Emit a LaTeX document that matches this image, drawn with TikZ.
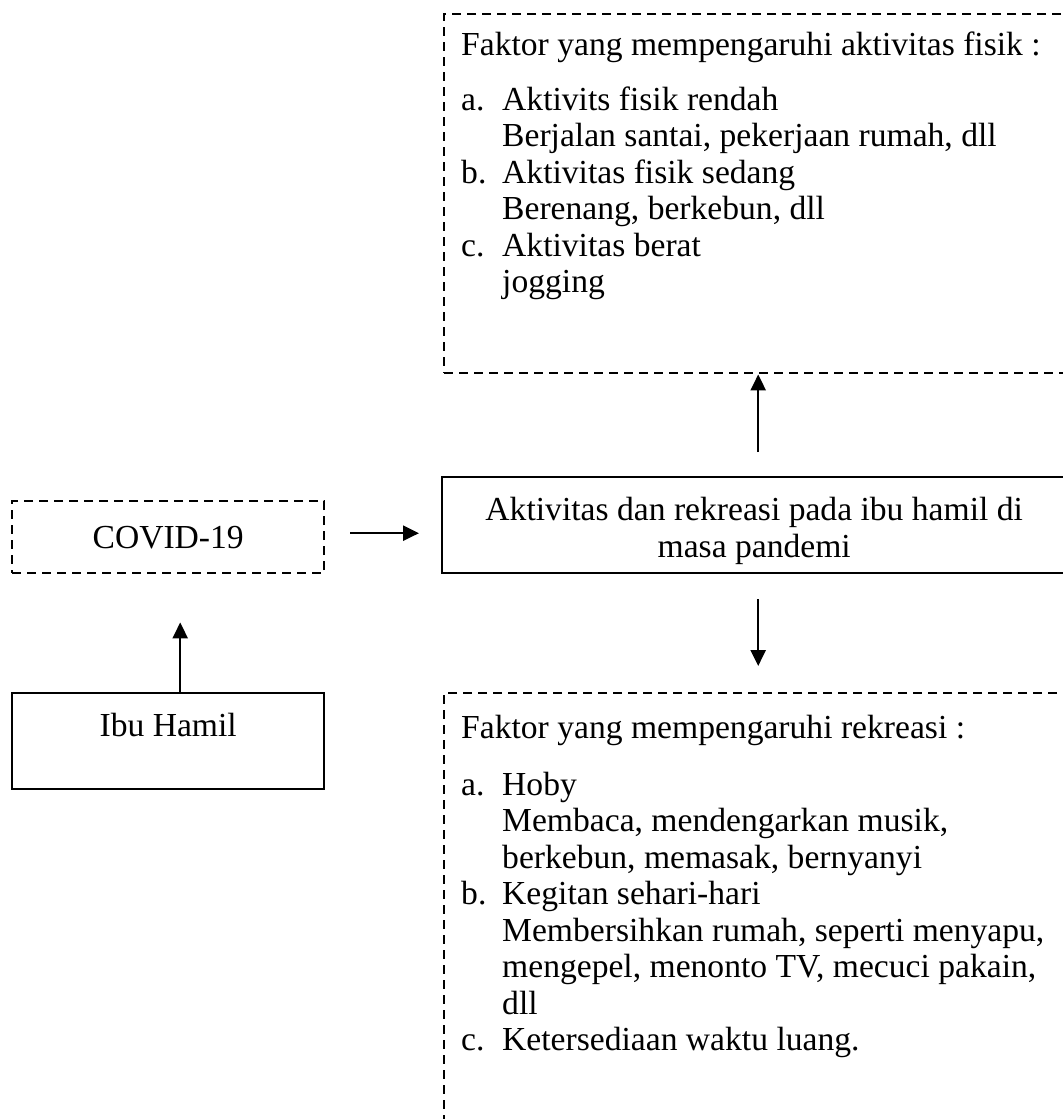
\documentclass[tikz,border=0pt]{standalone}
\usepackage{fontspec}
\setmainfont{Liberation Serif}
\usetikzlibrary{arrows.meta,positioning}

\newcommand{\itm}[1]{\makebox[20.5pt][l]{#1}}

\begin{document}
\begin{tikzpicture}[x=0.5pt, y=-0.5pt, >={Triangle[length=8pt, width=7.5pt]}, line width=1.2pt]
    \tikzset{solidbox/.style = {draw, rectangle, anchor=north west, inner sep=0pt},
             dashbox/.style = {solidbox, dash pattern=on 4.5pt off 3pt},
             boxfont/.style = {font=\fontsize{16.8}{18.25}\selectfont},
             boxtext/.style = {boxfont, align=left, anchor=north west, inner sep=0pt},
             link/.style = {->}}

    \useasboundingbox (0,0) rectangle (1062,1119);

    % boxes
    \node[dashbox, minimum width=312pt, minimum height=179.5pt] (fisikbox) at (443,13) {};
    \node[solidbox, boxfont, minimum width=312pt, minimum height=48pt] (mid) at (441,476)
        {\parbox[c][48pt][t]{312pt}{\centering\vspace*{10pt}Aktivitas dan rekreasi pada ibu hamil di\\masa pandemi}};
    \node[dashbox, boxfont, minimum width=156pt, minimum height=36pt] (covid) at (11,500) {COVID-19};
    \node[solidbox, minimum width=156pt, minimum height=48pt] (ibu) at (11,692) {};
    \node[dashbox, minimum width=312pt, minimum height=230pt] (rekbox) at (443,692) {};

    % texts
    \node[boxfont, inner sep=0pt, below=10pt of ibu.north] (ibutext) {Ibu Hamil};
    \node[boxtext] (fisik) at (460,31) {Faktor yang mempengaruhi aktivitas fisik :\\[9pt]
        \itm{a.}Aktivits fisik rendah\\
        \itm{}Berjalan santai, pekerjaan rumah, dll\\
        \itm{b.}Aktivitas fisik sedang\\
        \itm{}Berenang, berkebun, dll\\
        \itm{c.}Aktivitas berat\\
        \itm{}jogging};
    \node[boxtext] (rek) at (460,714) {Faktor yang mempengaruhi rekreasi :\\[10pt]
        \itm{a.}Hoby\\
        \itm{}Membaca, mendengarkan musik,\\
        \itm{}berkebun, memasak, bernyanyi\\
        \itm{b.}Kegitan sehari-hari\\
        \itm{}Membersihkan rumah, seperti menyapu,\\
        \itm{}mengepel, menonto TV, mecuci pakain,\\
        \itm{}dll\\
        \itm{c.}Ketersediaan waktu luang.};

    % arrows
    \draw[link, shorten >=24pt] ([xshift=6pt]ibu.north) -- ([xshift=6pt]covid.south);
    \draw[link, shorten <=12.5pt, shorten >=11pt] ([yshift=2pt]covid.east) -- ([yshift=2pt]covid.east -| mid.west);
    \draw[link, shorten <=12pt] ([xshift=2pt]mid.north) -- ([xshift=2pt]mid.north |- fisikbox.south);
    \draw[link, shorten <=12.5pt, shorten >=13pt] ([xshift=2pt]mid.south) -- ([xshift=2pt]mid.south |- rekbox.north);
\end{tikzpicture}
\end{document}
